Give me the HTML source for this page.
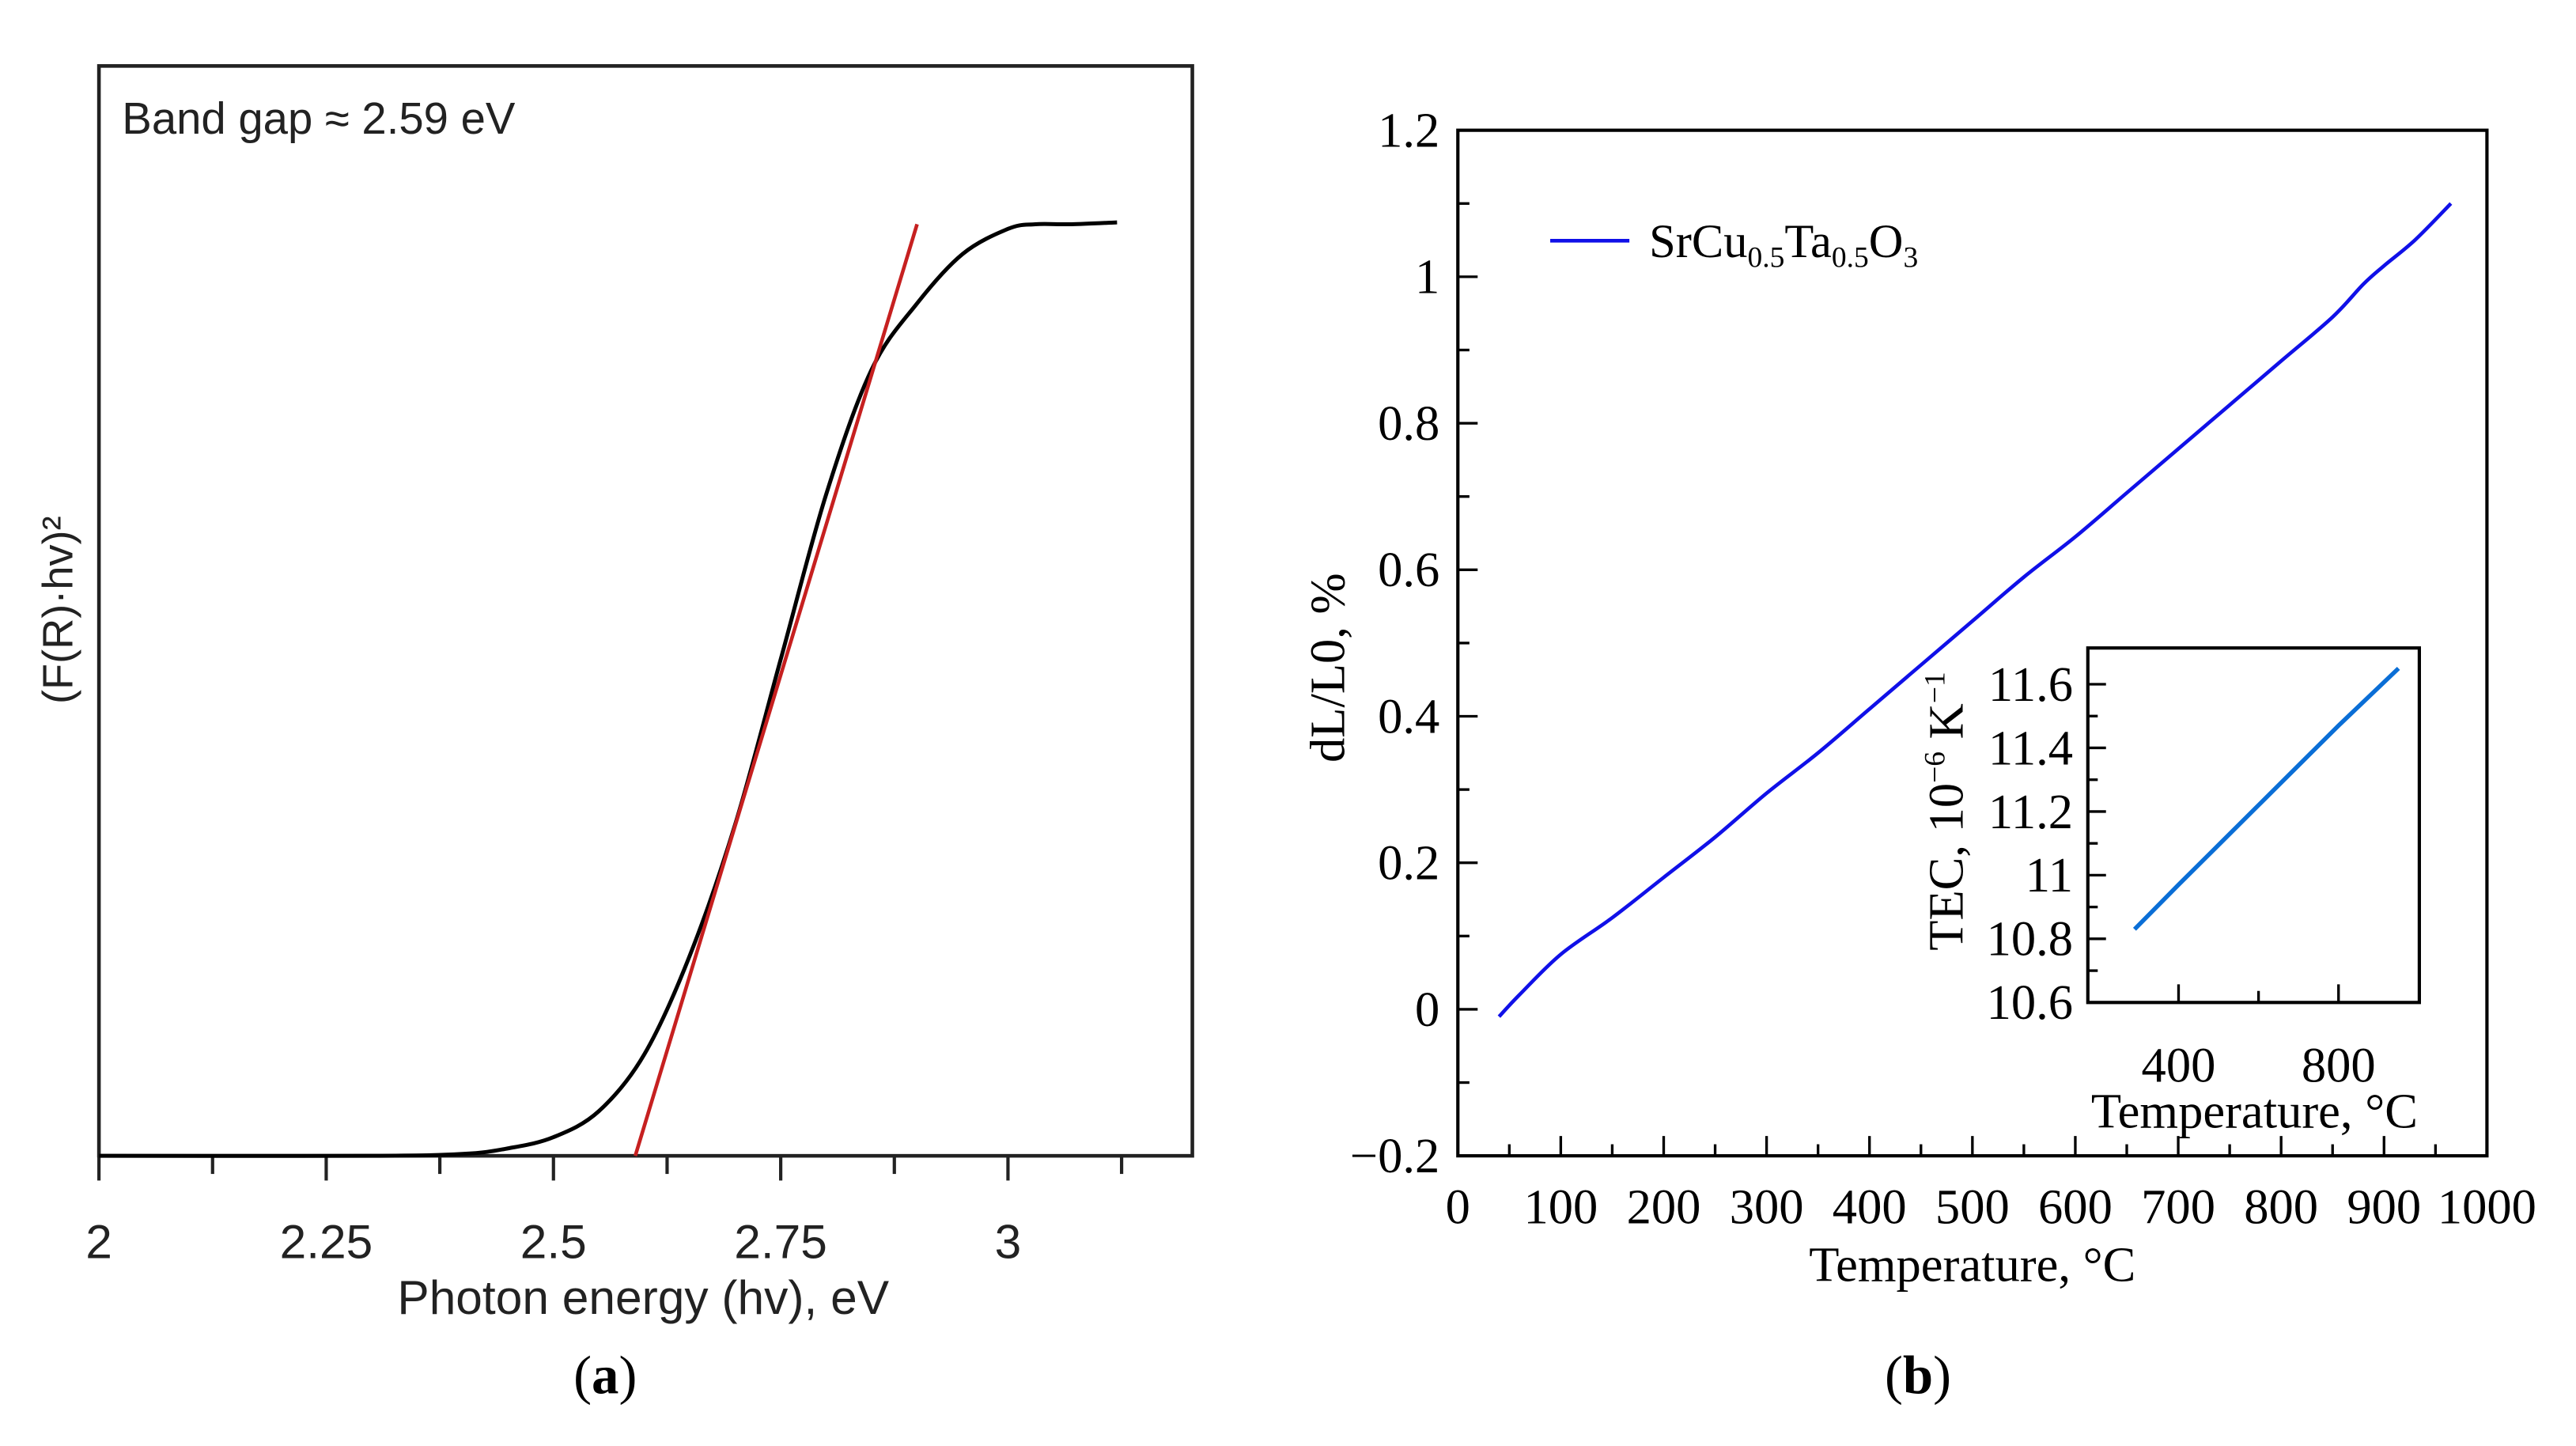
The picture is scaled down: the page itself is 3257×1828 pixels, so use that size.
<!DOCTYPE html>
<html><head><meta charset="utf-8"><style>
html,body{margin:0;padding:0;background:#fff;}
svg{display:block;}
.s{font-family:"Liberation Sans",sans-serif;fill:#222;}
.r{font-family:"Liberation Serif",serif;fill:#000;}
</style></head><body>
<svg id="fig" width="3257" height="1828" viewBox="0 0 1562 877" preserveAspectRatio="none" xmlns="http://www.w3.org/2000/svg">
<rect width="1562" height="877" fill="#fff"/>
<g id="pa"></g>
<g id="pb"></g>
</svg>
<script>
// Panel a data
const aX = [2.0,2.3,2.4,2.45,2.5,2.55,2.6,2.65,2.7,2.75,2.8,2.85,2.9,2.95,3.0,3.03,3.07,3.12];
const aY = [0,0,0.2,0.8,2.0,4.8,10.9,21.5,35.6,53.3,71.0,84.4,91.5,96.8,99.5,100,100,100.2];
const aFitX = [2.59,2.9];
const aFitY = [0,100];
const aTicks = [2,2.25,2.5,2.75,3];
const aTickLabels = ["2","2.25","2.5","2.75","3"];
// Panel b data
const bT = [40,60,100,150,200,250,300,350,400,450,500,550,600,650,700,750,800,850,880,900,930,965];
const bDL = [-0.01,0.02,0.075,0.125,0.18,0.235,0.295,0.35,0.41,0.47,0.53,0.59,0.645,0.705,0.765,0.825,0.885,0.945,0.99,1.015,1.05,1.1];
const bXTicks = [0,100,200,300,400,500,600,700,800,900,1000];
const bYTicks = [-0.2,0,0.2,0.4,0.6,0.8,1,1.2];
const bYTickLabels = ["\u22120.2","0","0.2","0.4","0.6","0.8","1","1.2"];
const iT = [290,400,500,600,700,800,900,950];
const iTEC = [10.83,10.97,11.095,11.22,11.345,11.47,11.59,11.65];
const iYTicks = [10.6,10.8,11,11.2,11.4,11.6];
const iXTicks = [400,800];

const NS="http://www.w3.org/2000/svg";
function mk(p,t,a,txt){const e=document.createElementNS(NS,t);for(const k in a)e.setAttribute(k,a[k]);if(txt!==undefined)e.textContent=txt;p.appendChild(e);return e;}
function path(xs,ys,fx,fy){return xs.map((v,i)=>(i?'L':'M')+fx(v).toFixed(2)+','+fy(ys[i]).toFixed(2)).join('');}
function smooth(xs,ys,fx,fy){
  const P=xs.map((v,i)=>[fx(v),fy(ys[i])]);
  let d='M'+P[0][0].toFixed(2)+','+P[0][1].toFixed(2);
  for(let i=0;i<P.length-1;i++){
    const p0=P[Math.max(0,i-1)],p1=P[i],p2=P[i+1],p3=P[Math.min(P.length-1,i+2)];
    const c1=[p1[0]+(p2[0]-p0[0])/6,p1[1]+(p2[1]-p0[1])/6];
    const c2=[p2[0]-(p3[0]-p1[0])/6,p2[1]-(p3[1]-p1[1])/6];
    d+='C'+c1.map(n=>n.toFixed(2)).join(',')+' '+c2.map(n=>n.toFixed(2)).join(',')+' '+p2.map(n=>n.toFixed(2)).join(',');
  }
  return d;
}

// ---- Panel a ----
const pa=document.getElementById('pa');
const ax=v=>60+(v-2)/0.25*137.8, ay=v=>701-v*5.65;
let e=mk(pa,'rect',{x:60,y:40,width:663,height:661,fill:'none',stroke:'#222','stroke-width':2.2});

for(let v=2;v<=3.13;v+=0.125){
  e=mk(pa,'line',{x1:ax(v),x2:ax(v),y1:701,y2:(Math.abs((v*4)%1)<0.01?716:712),stroke:'#222','stroke-width':2});
  
}
aTicks.forEach((v,i)=>{e=mk(pa,'text',{x:ax(v),y:763,'text-anchor':'middle','font-size':29,class:'s'},aTickLabels[i]);
  });
e=mk(pa,'path',{d:smooth(aX,aY,ax,ay),fill:'none',stroke:'#000','stroke-width':2.4});

e=mk(pa,'path',{d:path(aFitX,aFitY,ax,ay),fill:'none',stroke:'#c62020','stroke-width':2.2});

e=mk(pa,'text',{x:74,y:81,'font-size':27,class:'s'},'Band gap \u2248 2.59 eV');

e=mk(pa,'text',{x:390,y:797,'text-anchor':'middle','font-size':29,class:'s'},'Photon energy (hv), eV');

e=mk(pa,'text',{x:0,y:0,'text-anchor':'middle','font-size':26,class:'s',transform:'translate(44,370) rotate(-90)'},'(F(R)\u00b7hv)\u00b2');

e=mk(pa,'text',{x:367,y:845,'text-anchor':'middle','font-size':33,class:'r'},'');
e.innerHTML='(<tspan font-weight="bold">a</tspan>)';


// ---- Panel b ----
const pb=document.getElementById('pb');
const bx=v=>884+v*0.624, by=v=>701-(v+0.2)/1.4*622;
e=mk(pb,'rect',{x:884,y:79,width:624,height:622,fill:'none',stroke:'#000','stroke-width':2});

for(let v=0;v<=1000;v+=50){
  e=mk(pb,'line',{x1:bx(v),x2:bx(v),y1:701,y2:(v%100===0?689:694),stroke:'#000','stroke-width':1.6});
  
}
for(let k=-2;k<=12;k++){const v=k/10;
  e=mk(pb,'line',{x1:884,x2:(k%2===0?896:891),y1:by(v),y2:by(v),stroke:'#000','stroke-width':1.6});
  
}
bXTicks.forEach(v=>{e=mk(pb,'text',{x:bx(v),y:742,'text-anchor':'middle','font-size':30,class:'r'},String(v));
  });
bYTicks.forEach((v,i)=>{e=mk(pb,'text',{x:873,y:by(v)+10,'text-anchor':'end','font-size':30,class:'r'},bYTickLabels[i]);
  });
e=mk(pb,'path',{d:smooth(bT,bDL,bx,by),fill:'none',stroke:'#1010e8','stroke-width':2.2});

e=mk(pb,'line',{x1:940,x2:988,y1:146,y2:146,stroke:'#1010e8','stroke-width':2.2});

e=mk(pb,'text',{x:1000,y:156,'font-size':29,class:'r'},'');
e.innerHTML='SrCu<tspan font-size="18" dy="6">0.5</tspan><tspan dy="-6">Ta</tspan><tspan font-size="18" dy="6">0.5</tspan><tspan dy="-6">O</tspan><tspan font-size="18" dy="6">3</tspan>';

e=mk(pb,'text',{x:1196,y:777,'text-anchor':'middle','font-size':30,class:'r'},'Temperature, \u00b0C');

e=mk(pb,'text',{x:0,y:0,'text-anchor':'middle','font-size':30,class:'r',transform:'translate(815,405) rotate(-90)'},'dL/L0, %');

e=mk(pb,'text',{x:1163,y:845,'text-anchor':'middle','font-size':33,class:'r'},'');
e.innerHTML='(<tspan font-weight="bold">b</tspan>)';


// inset
const ix=v=>1321+(v-400)*97/400, iy=v=>608-(v-10.6)*193;
e=mk(pb,'rect',{x:1266,y:393,width:201,height:215,fill:'#fff',stroke:'#000','stroke-width':2});

for(let v=400;v<=800;v+=200){
  e=mk(pb,'line',{x1:ix(v),x2:ix(v),y1:608,y2:(v%400===0?597:601),stroke:'#000','stroke-width':1.6});
  
}
for(let k=0;k<11;k++){const v=10.6+k*0.1;
  e=mk(pb,'line',{x1:1266,x2:(k%2===0?1277:1272),y1:iy(v),y2:iy(v),stroke:'#000','stroke-width':1.6});
  
}
iXTicks.forEach(v=>{e=mk(pb,'text',{x:ix(v),y:656,'text-anchor':'middle','font-size':30,class:'r'},String(v));
  });
iYTicks.forEach(v=>{e=mk(pb,'text',{x:1257,y:iy(v)+10,'text-anchor':'end','font-size':30,class:'r'},(Math.round(v*10)/10).toString());
  });
e=mk(pb,'path',{d:path(iT,iTEC,ix,iy),fill:'none',stroke:'#0a6ed6','stroke-width':2.6});

e=mk(pb,'text',{x:1367,y:684,'text-anchor':'middle','font-size':30,class:'r'},'Temperature, \u00b0C');

e=mk(pb,'text',{x:0,y:0,'text-anchor':'middle','font-size':30,class:'r',transform:'translate(1190,492) rotate(-90)'},'');
e.innerHTML='TEC, 10<tspan font-size="18" dy="-11">\u22126</tspan><tspan dy="11"> K</tspan><tspan font-size="18" dy="-11">\u22121</tspan>';

</script>
</body></html>
